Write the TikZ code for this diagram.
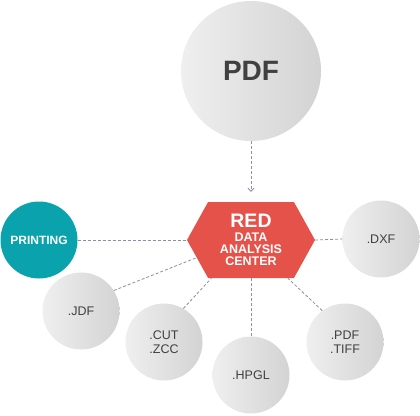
\documentclass[tikz,border=0pt]{standalone}
\usepackage{fontspec}
\setmainfont{Liberation Sans}
\usetikzlibrary{shapes.symbols,arrows.meta}
\definecolor{circL}{HTML}{EFEFEF}
\definecolor{circR}{HTML}{D3D3D3}
\definecolor{teal}{HTML}{0AA2AD}
\definecolor{redhex}{HTML}{E4524A}
\definecolor{dashc}{HTML}{8A90A8}
\definecolor{txt}{HTML}{404040}
\newcommand{\smallhex}{\fontsize{12.5}{11.5}\selectfont\bfseries}
\tikzset{
  bubble/.style={circle, inner sep=0pt, minimum size=77pt, left color=circL, right color=circR, draw=none,
    text=txt, font=\fontsize{12.5}{13.5}\selectfont, align=center},
  bigbubble/.style={bubble, minimum size=140pt, font=\fontsize{28}{30}\selectfont\bfseries},
  printbubble/.style={circle, inner sep=0pt, minimum size=77pt, fill=teal, text=white,
    font=\fontsize{12}{13}\selectfont\bfseries},
  hexbox/.style={signal, signal to=west and east, signal pointer angle=122, fill=redhex,
    inner sep=0pt, minimum width=128pt, minimum height=76pt, text=white, align=center},
  link/.style={draw=dashc, line width=0.8pt, dash pattern=on 3pt off 2pt},
}
\begin{document}
\begin{tikzpicture}[x=1pt,y=-1pt]
\useasboundingbox (0,0) rectangle (420,415);
\node[bigbubble] (pdf) at (251,71) {PDF};
\node[hexbox] (hex) at (251,240) {\fontsize{19.5}{20}\selectfont\bfseries RED\\[2.5pt]
  \smallhex DATA\\\smallhex ANALYSIS\\\smallhex CENTER};
\node[printbubble] (print) at (39,240) {PRINTING};
\node[bubble] (dxf) at (381,239) {.DXF};
\node[bubble] (jdf) at (81,311) {.JDF};
\node[bubble] (cut) at (164,342) {.CUT\\.ZCC};
\node[bubble] (hpgl) at (251,375) {.HPGL};
\node[bubble] (pdft) at (345,342) {.PDF\\.TIFF};
\draw[link, -{Straight Barb[length=3pt,width=6pt,line width=0.8pt]}, shorten >=10pt] (pdf) -- (hex.north);
\draw[link] (print.east) -- (hex.west);
\draw[link] (hex.east) -- (dxf.west);
\draw[link] (jdf.32) -- (hex.198);
\draw[link] (cut.60) -- (hex.224);
\draw[link] (hpgl.north) -- (hex.south);
\draw[link] (pdft.126) -- (hex.314);
\end{tikzpicture}
\end{document}
